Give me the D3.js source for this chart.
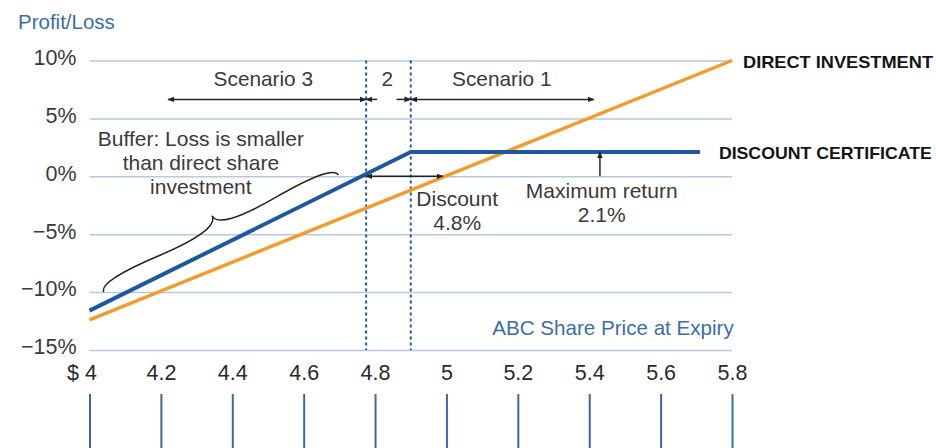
<!DOCTYPE html>
<html>
<head>
<meta charset="utf-8">
<script src="https://cdn.jsdelivr.net/npm/d3@7"></script>
<style>
  html, body { margin: 0; padding: 0; background: #fff; }
  svg { display: block; font-family: "Liberation Sans", Arial, sans-serif; }
</style>
</head>
<body>
<svg id="chart" width="936" height="448"></svg>
<script>
// Share price at expiry (x axis) and profit/loss in percent (y axis)
const priceTicks = [4, 4.2, 4.4, 4.6, 4.8, 5, 5.2, 5.4, 5.6, 5.8];
const priceLabels = ["$ 4", "4.2", "4.4", "4.6", "4.8", "5", "5.2", "5.4", "5.6", "5.8"];
const pctTicks = [10, 5, 0, -5, -10, -15];
const pctLabels = ["10%", "5%", "0%", "\u22125%", "\u221210%", "\u221215%"];

// Payoff of a direct share investment
const directPrice = [4, 5.8];
const directReturn = [-12.4, 10];

// Payoff of the discount certificate: linear below the cap, flat above it
const certPrice = [4, 4.9, 5.71];
const certReturn = [-11.6, 2.1, 2.1];

// Scenario boundaries: break-even price and cap
const breakEven = 4.775;
const capPrice = 4.9;
const discountPct = 4.8;
const maxReturnPct = 2.1;

const seriesNames = ["DIRECT INVESTMENT", "DISCOUNT CERTIFICATE"];

const svg = d3.select("#chart");
const W = 936, H = 448;

const x = d3.scaleLinear().domain([4, 5.8]).range([89.5, 732]);
const y = d3.scaleLinear().domain([-15, 10]).range([350, 60.5]);

const textGray = "#3a3a3a";
const gridBlue = "#b4c9df";
const certBlue = "#1d58a2";
const directOrange = "#f39c2c";
const titleBlue = "#3b6ea6";

// arrowhead marker
const defs = svg.append("defs");
defs.append("marker")
  .attr("id", "head")
  .attr("viewBox", "0 0 10 10")
  .attr("refX", 9).attr("refY", 5)
  .attr("markerWidth", 7).attr("markerHeight", 7)
  .attr("markerUnits", "userSpaceOnUse")
  .attr("orient", "auto-start-reverse")
  .append("path")
  .attr("d", "M0,1 L10,5 L0,9 Z")
  .attr("fill", "#222");

// title
svg.append("text")
  .attr("x", 18).attr("y", 29)
  .attr("font-size", 20.5)
  .attr("fill", titleBlue)
  .text("Profit/Loss");

// horizontal gridlines
const yAxis = d3.axisLeft(y).tickValues(pctTicks)
  .tickSize(-(x(5.8) - x(4)))
  .tickPadding(13)
  .tickFormat((d, i) => pctLabels[i]);
const gy = svg.append("g")
  .attr("transform", `translate(${x(4)},0)`)
  .call(yAxis);
gy.select(".domain").remove();
gy.selectAll(".tick line").attr("stroke", gridBlue).attr("stroke-width", 1.5);
gy.selectAll(".tick text")
  .attr("font-size", 21.5)
  .attr("fill", textGray)
  .attr("font-family", "'Liberation Sans', Arial, sans-serif")
  .attr("dy", "0.18em");

// x axis labels and the long tick stems below them
const xAxis = d3.axisBottom(x).tickValues(priceTicks)
  .tickSize(0)
  .tickPadding(0)
  .tickFormat((d, i) => priceLabels[i]);
const gx = svg.append("g")
  .attr("transform", `translate(0,${y(-15)})`)
  .call(xAxis);
gx.select(".domain").remove();
gx.selectAll(".tick text")
  .attr("font-size", 21.5)
  .attr("fill", "#2a2a2a")
  .attr("font-family", "'Liberation Sans', Arial, sans-serif")
  .attr("y", 30)
  .attr("dy", 0)
  .attr("text-anchor", (d, i) => i === 0 ? "end" : "middle")
  .attr("dx", (d, i) => i === 0 ? 7 : 0);
gx.selectAll(".tick").append("line")
  .attr("x1", 0).attr("x2", 0)
  .attr("y1", 44).attr("y2", H - y(-15) + 2)
  .attr("stroke", "#3a6aa3")
  .attr("stroke-width", 2);

// x axis caption
svg.append("text")
  .attr("x", x(5.805)).attr("y", y(-13.7))
  .attr("text-anchor", "end")
  .attr("font-size", 20.6)
  .attr("fill", titleBlue)
  .text("ABC Share Price at Expiry");

// dashed scenario boundaries
svg.selectAll("line.bound")
  .data([breakEven, capPrice])
  .join("line")
  .attr("class", "bound")
  .attr("x1", d => x(d)).attr("x2", d => x(d))
  .attr("y1", y(10)).attr("y2", y(-15))
  .attr("stroke", certBlue)
  .attr("stroke-width", 2)
  .attr("stroke-dasharray", "3,3");

// payoff lines
const line = d3.line().x(d => x(d[0])).y(d => y(d[1]));
svg.append("path")
  .datum(directPrice.map((p, i) => [p, directReturn[i]]))
  .attr("d", line)
  .attr("fill", "none")
  .attr("stroke", directOrange)
  .attr("stroke-width", 3.5);
svg.append("path")
  .datum(certPrice.map((p, i) => [p, certReturn[i]]))
  .attr("d", line)
  .attr("fill", "none")
  .attr("stroke", certBlue)
  .attr("stroke-width", 4);

// series labels at the line ends
svg.append("text")
  .attr("x", x(5.8) + 11).attr("y", y(10) + 7.5)
  .attr("font-size", 17).attr("font-weight", "bold")
  .attr("fill", "#141414")
  .attr("textLength", 190).attr("lengthAdjust", "spacingAndGlyphs")
  .text(seriesNames[0]);
svg.append("text")
  .attr("x", x(certPrice[2]) + 19).attr("y", y(maxReturnPct) + 7)
  .attr("font-size", 17).attr("font-weight", "bold")
  .attr("fill", "#141414")
  .attr("textLength", 213).attr("lengthAdjust", "spacingAndGlyphs")
  .text(seriesNames[1]);

// helper for annotation arrows
function arrow(x1, y1, x2, y2, startHead, endHead) {
  const l = svg.append("line")
    .attr("x1", x1).attr("y1", y1).attr("x2", x2).attr("y2", y2)
    .attr("stroke", "#222").attr("stroke-width", 1.5);
  if (startHead) l.attr("marker-start", "url(#head)");
  if (endHead) l.attr("marker-end", "url(#head)");
}

function label(px, py, lines, size) {
  const t = svg.append("text")
    .attr("x", px).attr("y", py)
    .attr("text-anchor", "middle")
    .attr("font-size", size)
    .attr("fill", textGray);
  lines.forEach((s, i) => {
    t.append("tspan").attr("x", px).attr("dy", i === 0 ? 0 : 24).text(s);
  });
}

// scenario labels and arrows
const rowY = y(6.64);
label(x(4.487), y(7.8), ["Scenario 3"], 20.8);
label(x(4.834), y(7.8), ["2"], 20.8);
label(x(5.155), y(7.8), ["Scenario 1"], 20.8);
arrow(x(4.22), rowY, x(breakEven), rowY, true, true);
arrow(x(4.806), rowY, x(breakEven), rowY, false, true);
arrow(x(4.86), rowY, x(capPrice), rowY, false, true);
arrow(x(capPrice), rowY, x(5.413), rowY, true, true);

// buffer annotation with curly brace
label(x(4.312), y(2.6), ["Buffer: Loss is smaller", "than direct share", "investment"], 21);

function curlyBrace(x1, y1, x2, y2, w, q) {
  let dx = x1 - x2, dy = y1 - y2;
  const len = Math.hypot(dx, dy);
  dx /= len; dy /= len;
  const qx1 = x1 + q * w * dy, qy1 = y1 - q * w * dx;
  const qx2 = (x1 - 0.25 * len * dx) + (1 - q) * w * dy, qy2 = (y1 - 0.25 * len * dy) - (1 - q) * w * dx;
  const tx1 = (x1 - 0.5 * len * dx) + w * dy, ty1 = (y1 - 0.5 * len * dy) - w * dx;
  const qx3 = x2 + q * w * dy, qy3 = y2 - q * w * dx;
  const qx4 = (x1 - 0.75 * len * dx) + (1 - q) * w * dy, qy4 = (y1 - 0.75 * len * dy) - (1 - q) * w * dx;
  return `M${x1},${y1} Q${qx1},${qy1} ${qx2},${qy2} T${tx1},${ty1} ` +
         `M${x2},${y2} Q${qx3},${qy3} ${qx4},${qy4} T${tx1},${ty1}`;
}
svg.append("path")
  .attr("d", curlyBrace(x(4.697), y(0.1), x(4.04), y(-10), 20, 0.6))
  .attr("fill", "none")
  .attr("stroke", "#222")
  .attr("stroke-width", 1.5);

// discount annotation
arrow(x(breakEven), y(0), x(4.99), y(0), true, true);
label(x(5.03), y(-2.58), ["Discount", discountPct + "%"], 21);

// maximum return annotation
arrow(x(5.43), y(0), x(5.43), y(maxReturnPct), false, true);
label(x(5.435), y(-1.9), ["Maximum return", maxReturnPct + "%"], 21);
</script>
</body>
</html>
